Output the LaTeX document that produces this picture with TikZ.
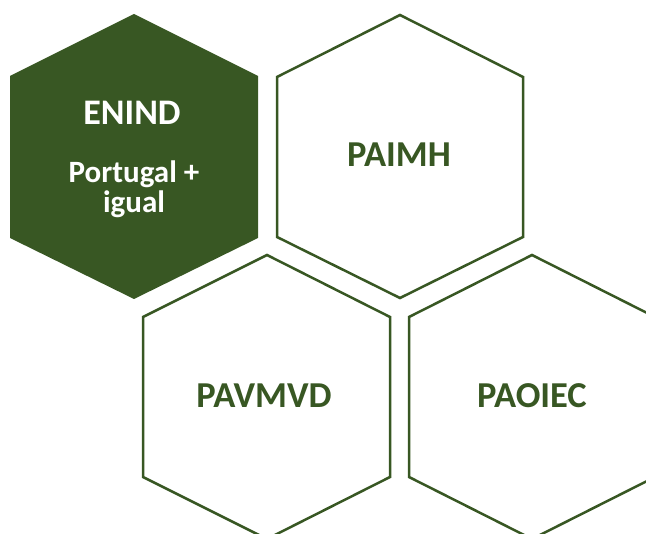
\documentclass[tikz,border=0pt]{standalone}
\usepackage{fontspec}
\setmainfont{Carlito}
\definecolor{dkgreen}{HTML}{385723}
\begin{document}
\begin{tikzpicture}[x=1pt,y=-1pt,
  hexline/.style={draw=dkgreen,line width=2.5pt,line join=miter},
  hexfill/.style={fill=dkgreen},
  bigtxt/.style={font=\bfseries\fontsize{36.5}{42}\selectfont,text=dkgreen,anchor=base,inner sep=0pt},
  whitetxt/.style={font=\bfseries\fontsize{36}{42}\selectfont,text=white,anchor=base,inner sep=0pt},
  smalltxt/.style={font=\bfseries\fontsize{31}{36}\selectfont,text=white,anchor=base,inner sep=0pt}]
\useasboundingbox (0,0) rectangle (646,534);
% hexagon 1 filled
\path[hexfill] (134,14) -- (258,76) -- (258,238) -- (134,299) -- (10,238) -- (10,76) -- cycle;
% hexagon 2
\draw[hexline] (400,15) -- (523,77) -- (523,237) -- (400,298) -- (277,237) -- (277,77) -- cycle;
% hexagon 3
\draw[hexline] (267,255) -- (390,317) -- (390,477) -- (267,539) -- (143,477) -- (143,317) -- cycle;
% hexagon 4
\draw[hexline] (532,255) -- (655,317) -- (655,477) -- (532,539) -- (409,477) -- (409,317) -- cycle;
\node[whitetxt] (enind) at (132,125) {ENIND};
\node[smalltxt] (port) at (134,183) {Portugal +};
\node[smalltxt] (igual) at (134,213) {igual};
\node[bigtxt] (paimh) at (399,167) {PAIMH};
\node[bigtxt] (pavmvd) at (264,408) {PAVMVD};
\node[bigtxt] (paoiec) at (532,408) {PAOIEC};
\end{tikzpicture}
\end{document}
